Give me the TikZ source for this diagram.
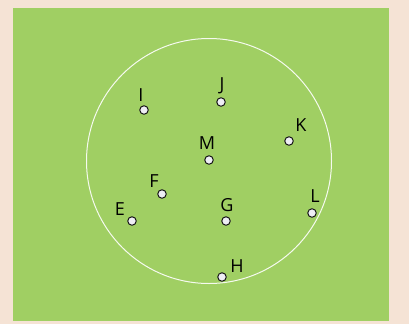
\documentclass[tikz,border=0pt]{standalone}
\usepackage{fontspec}
\setmainfont{Open Sans}
\definecolor{cream}{HTML}{F5E3D5}
\definecolor{field}{HTML}{A0CF63}
\definecolor{dotfill}{HTML}{EEEEF4}
\begin{document}
\begin{tikzpicture}[x=1pt,y=-1pt,
  pt/.style={circle,draw=black!90,fill=dotfill,line width=1pt,inner sep=0pt,minimum size=8.5pt},
  lab/.style={font=\fontsize{18}{18}\selectfont,text=black,inner sep=0pt}]
\fill[cream] (0,0) rectangle (409,324);
\useasboundingbox (0,0) rectangle (409,324);
\fill[field] (13,8) rectangle (389,321);
\node[circle,draw=white!90!field,line width=1pt,minimum size=245pt,inner sep=0pt] (ring) at (209,161) {};
\node[pt] (I) at (144,110) {}; \node[lab] (lI) at (141,95) {I};
\node[pt] (J) at (221,102) {}; \node[lab] (lJ) at (222,86) {J};
\node[pt] (M) at (209,160) {}; \node[lab] (lM) at (207,143) {M};
\node[pt] (K) at (289,141) {}; \node[lab] (lK) at (301,125) {K};
\node[pt] (F) at (162,194) {}; \node[lab] (lF) at (154,181) {F};
\node[pt] (E) at (132,221) {}; \node[lab] (lE) at (120,209) {E};
\node[pt] (G) at (226,221) {}; \node[lab] (lG) at (227,205) {G};
\node[pt] (L) at (312,213) {}; \node[lab] (lL) at (315,196) {L};
\node[pt] (H) at (222,277) {}; \node[lab] (lH) at (237,266) {H};
\end{tikzpicture}
\end{document}
